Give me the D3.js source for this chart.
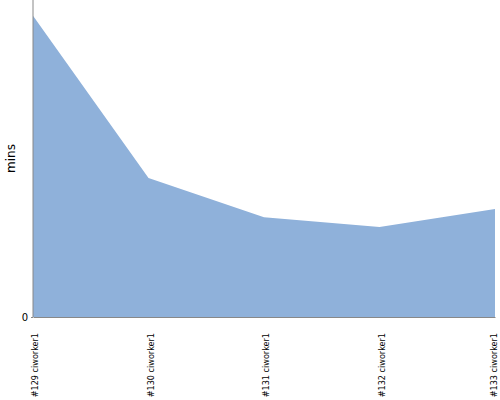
<!DOCTYPE html>
<html><head><meta charset="utf-8">
<script src="https://cdn.jsdelivr.net/npm/d3@7"></script>
<style>body{margin:0;background:#fff}svg{display:block}</style>
</head><body>
<script>
const categories = ["#129 ciworker1","#130 ciworker1","#131 ciworker1","#132 ciworker1","#133 ciworker1"];
const values = [19.0, 8.77, 6.3, 5.68, 6.81];
const yTicks = [0];

const W = 500, H = 400;
const m = {left: 33, right: 5, top: 0, bottom: 83};
const svg = d3.select("body").append("svg").attr("width", W).attr("height", H);

const x = d3.scalePoint().domain(categories).range([m.left, W - m.right]);
const y = d3.scaleLinear().domain([0, 20]).range([H - m.bottom, m.top]);

const area = d3.area().x(d => x(d.c)).y0(y(0)).y1(d => y(d.v));
const data = categories.map((c, i) => ({c, v: values[i]}));
svg.append("path").datum(data).attr("d", area).attr("fill", "#8fb1da");

// y axis
const ya = svg.append("g").attr("transform", `translate(${m.left},0)`)
  .call(d3.axisLeft(y).tickValues(yTicks).tickSize(2).tickFormat(d3.format("d")));
ya.select(".domain").attr("stroke", "#888").attr("d", `M0,${m.top}V${H - m.bottom}`);
ya.selectAll(".tick line").attr("stroke", "#888");
ya.selectAll("text").attr("font-family", "Tahoma, 'DejaVu Sans', sans-serif").attr("font-size", 10).attr("fill", "#000").attr("x", -5);

// x axis
const xa = svg.append("g").attr("transform", `translate(0,${H - m.bottom})`)
  .call(d3.axisBottom(x).tickSize(0));
xa.select(".domain").attr("stroke", "#888");
xa.selectAll(".tick text")
  .attr("font-family", "'DejaVu Sans Condensed', 'Liberation Sans Narrow', sans-serif")
  .attr("font-size", 9).attr("fill", "#000")
  .attr("transform", "rotate(-90)")
  .attr("text-anchor", "end")
  .attr("dy", "0.32em")
  .attr("x", -16).attr("y", (d, i) => i === categories.length - 1 ? -1 : 2);

svg.append("text").attr("transform", `translate(15,${(H - m.bottom)/2}) rotate(-90)`)
  .attr("text-anchor", "middle").attr("font-family", "'DejaVu Sans', sans-serif")
  .attr("font-size", 12).text("mins");
</script>
</body></html>
